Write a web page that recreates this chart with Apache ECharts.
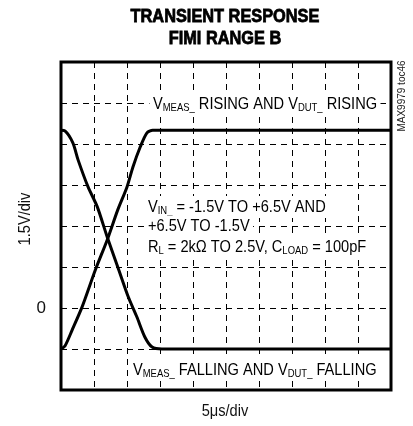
<!DOCTYPE html>
<html>
<head>
<meta charset="utf-8">
<script src="https://cdn.jsdelivr.net/npm/echarts@6/dist/echarts.min.js"></script>
<style>
  html, body { margin: 0; padding: 0; background: #fff; }
  #chart { width: 413px; height: 426px; }
</style>
</head>
<body>
<div id="chart"></div>
<script>
// Time in microseconds, amplitude in volts (5 us/div, 1.5 V/div)
const fallTime = [0, 0.6, 1.8, 2.6, 4.1, 5.5, 7.0, 8.6, 10.2, 11.5, 12.7, 13.8, 15.3, 50];
const fallVolt = [6.5, 6.48, 6.04, 5.41, 4.43, 3.70, 2.60, 1.50, 0.40, -0.33, -1.06, -1.43, -1.5, -1.5];

const riseTime = [0, 0.6, 1.7, 3.2, 5.2, 7.0, 8.6, 10.0, 10.9, 12.0, 13.0, 13.9, 15.8, 50];
const riseVolt = [-1.5, -1.39, -0.80, 0.04, 1.39, 2.49, 3.59, 4.43, 5.16, 5.89, 6.40, 6.5, 6.5, 6.5];

const xRange = [0, 50];       // 10 divisions of 5 us
const yRange = [-3, 9];       // 8 divisions of 1.5 V
const xStep = 5;
const yStep = 1.5;
const yTickLabels = { '0': '0' };

// Liberation Sans squeezed horizontally stands in for a condensed face
const FONT = '"Liberation Sans", Arial, sans-serif';
const SQUEEZE = 0.86;

const pairs = (xs, ys) => xs.map((x, i) => [x, ys[i]]);

const chart = echarts.init(document.getElementById('chart'), null, { renderer: 'canvas' });

const mainStyle = { fontFamily: FONT, fontSize: 17, lineHeight: 18, color: '#111' };
const subStyle = { fontFamily: FONT, fontSize: 11, lineHeight: 9, color: '#111', verticalAlign: 'bottom' };

function label(x, y, text) {
  return {
    type: 'text',
    x: x, y: y,
    scaleX: SQUEEZE,
    z: 50,
    style: {
      text: text,
      align: 'left',
      verticalAlign: 'middle',
      backgroundColor: '#fff',
      padding: [2, 4, 2, 4],
      rich: { m: mainStyle, s: subStyle }
    }
  };
}

function plainText(x, y, text, opts) {
  return Object.assign({
    type: 'text', x: x, y: y, z: 50, scaleX: SQUEEZE,
    style: Object.assign({ text: text, align: 'center', verticalAlign: 'middle',
                           fontFamily: FONT, fontSize: 17, fill: '#111' }, opts.style || {})
  }, opts.el || {});
}

const titleStyle = { fontWeight: 'bold', fontSize: 19, fill: '#000', stroke: '#000', lineWidth: 0.8 };

chart.setOption({
  animation: false,
  backgroundColor: '#fff',
  grid: {
    left: 61, right: 22, top: 62, bottom: 36,
    show: true,
    borderColor: '#000',
    borderWidth: 3,
    backgroundColor: 'transparent'
  },
  xAxis: {
    type: 'value',
    min: xRange[0], max: xRange[1], interval: xStep,
    axisLine: { show: false },
    axisTick: { show: false },
    axisLabel: { show: false },
    splitLine: { show: true, lineStyle: { color: '#000', width: 1, type: [6, 5] } }
  },
  yAxis: {
    type: 'value',
    min: yRange[0], max: yRange[1], interval: yStep,
    axisLine: { show: false },
    axisTick: { show: false },
    axisLabel: {
      margin: 15,
      fontFamily: FONT, fontSize: 17, color: '#111',
      formatter: v => yTickLabels[String(v)] || ''
    },
    splitLine: { show: true, lineStyle: { color: '#000', width: 1, type: [6, 5] } }
  },
  graphic: [
    plainText(225, 17, 'TRANSIENT RESPONSE', { style: titleStyle }),
    plainText(225, 39, 'FIMI RANGE B', { style: titleStyle }),
    plainText(402.5, 96, 'MAX9979 toc46', { el: { rotation: Math.PI / 2, scaleX: 1 },
                                             style: { fontSize: 10, fill: '#222' } }),
    plainText(25, 219, '1.5V/div', { el: { rotation: Math.PI / 2 } }),
    plainText(225, 411, '5\u03bcs/div', {}),
    label(149.5, 104, '{m|V}{s|MEAS_}{m| RISING AND V}{s|DUT_}{m| RISING}'),
    label(144.5, 207, '{m|V}{s|IN_}{m| = -1.5V TO +6.5V AND}'),
    label(144.5, 226.5, '{m|+6.5V TO -1.5V}'),
    label(144.5, 247, '{m|R}{s|L}{m| = 2k\u03a9 TO 2.5V, C}{s|LOAD}{m| = 100pF}'),
    label(129.5, 370, '{m|V}{s|MEAS_}{m| FALLING AND V}{s|DUT_}{m| FALLING}')
  ],
  series: [
    {
      type: 'line',
      data: pairs(fallTime, fallVolt),
      showSymbol: false,
      smooth: 0.25,
      lineStyle: { color: '#000', width: 3 },
      z: 10
    },
    {
      type: 'line',
      data: pairs(riseTime, riseVolt),
      showSymbol: false,
      smooth: 0.25,
      lineStyle: { color: '#000', width: 3 },
      z: 10
    }
  ]
});
</script>
</body>
</html>
